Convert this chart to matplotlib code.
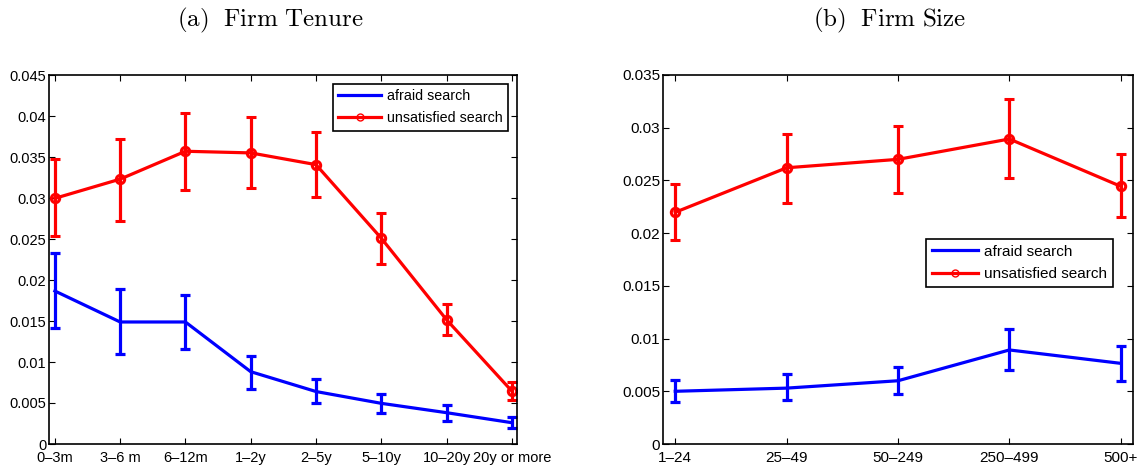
import matplotlib
matplotlib.use("Agg")
import matplotlib.pyplot as plt
from matplotlib.lines import Line2D
from matplotlib.ticker import FuncFormatter
import numpy as np

# ---- data ----
tenure_labels = ["0\u20133m", "3\u20136 m", "6\u201312m", "1\u20132y", "2\u20135y",
                 "5\u201310y", "10\u201320y", "20y or more"]
tenure_afraid = [0.01866, 0.01488, 0.01488, 0.00882, 0.00640, 0.00496, 0.00382, 0.00260]
tenure_afraid_lo = [0.01415, 0.01093, 0.01163, 0.00667, 0.00496, 0.00374, 0.00285, 0.00190]
tenure_afraid_hi = [0.02325, 0.01890, 0.01817, 0.01073, 0.00789, 0.00610, 0.00472, 0.00330]
tenure_unsat = [0.02996, 0.03230, 0.03570, 0.03550, 0.03407, 0.02510, 0.01516, 0.00646]
tenure_unsat_lo = [0.02540, 0.02720, 0.03100, 0.03120, 0.03010, 0.02190, 0.01325, 0.00537]
tenure_unsat_hi = [0.03470, 0.03720, 0.04040, 0.03990, 0.03810, 0.02820, 0.01710, 0.00756]

size_labels = ["1\u201324", "25\u201349", "50\u2013249", "250\u2013499", "500+"]
size_afraid = [0.00500, 0.00530, 0.00600, 0.00892, 0.00765]
size_afraid_lo = [0.00395, 0.00414, 0.00471, 0.00702, 0.00600]
size_afraid_hi = [0.00610, 0.00664, 0.00733, 0.01090, 0.00933]
size_unsat = [0.02198, 0.02620, 0.02700, 0.02893, 0.02444]
size_unsat_lo = [0.01938, 0.02290, 0.02378, 0.02520, 0.02150]
size_unsat_hi = [0.02463, 0.02940, 0.03020, 0.03270, 0.02750]

titles = ["(a)\\ \\ Firm\\ Tenure", "(b)\\ \\ Firm\\ Size"]
legend_labels = ["afraid search", "unsatisfied search"]

plt.rcParams['font.family'] = ['Liberation Sans', 'DejaVu Sans']
plt.rcParams['mathtext.fontset'] = 'cm'

W, H = 1143, 470
fig = plt.figure(figsize=(W / 100, H / 100), dpi=100)

def px_axes(x0, x1, y0, y1):
    return fig.add_axes([x0 / W, 1 - y1 / H, (x1 - x0) / W, (y1 - y0) / H])

ax1 = px_axes(49, 517, 75, 444)
ax2 = px_axes(663, 1133, 75, 444)

fmt = FuncFormatter(lambda v, p: "0" if abs(v) < 1e-12 else ("%g" % round(v, 4)))

def draw(ax, labels, af, af_lo, af_hi, un, un_lo, un_hi, ymax, xlim, fs, legend_kw):
    x = np.arange(1, len(labels) + 1)
    af = np.array(af); un = np.array(un)
    af_err = [af - np.array(af_lo), np.array(af_hi) - af]
    un_err = [un - np.array(un_lo), np.array(un_hi) - un]
    ax.errorbar(x, af, yerr=af_err, color='#0000ff', lw=2.3, elinewidth=2.3,
                capsize=3.5, capthick=2.3)
    ax.errorbar(x, un, yerr=un_err, color='#ff0000', lw=2.3, elinewidth=2.3,
                capsize=3.5, capthick=2.3, marker='o', ms=6, mfc='none', mew=2.2)
    ax.set_xlim(*xlim)
    ax.set_ylim(0, ymax)
    ax.set_xticks(x)
    ax.set_xticklabels(labels)
    ax.set_yticks(np.arange(0, ymax + 1e-9, 0.005))
    ax.yaxis.set_major_formatter(fmt)
    ax.tick_params(direction='in', length=4, width=0.8, top=True, right=True,
                   labelsize=fs, pad=2, colors='black')
    ax.tick_params(axis='x', pad=5)
    for s in ax.spines.values():
        s.set_linewidth(1.2)
    handles = [Line2D([], [], color='#0000ff', lw=2.3),
               Line2D([], [], color='#ff0000', lw=2.3, marker='o', ms=5, mfc='none', mew=1)]
    leg = ax.legend(handles, legend_labels, fancybox=False, framealpha=1,
                    edgecolor='black', handlelength=3.0,
                    handletextpad=0.4, borderpad=0.38, labelspacing=0.55,
                    **legend_kw)
    leg.get_frame().set_linewidth(1.2)

draw(ax1, tenure_labels, tenure_afraid, tenure_afraid_lo, tenure_afraid_hi,
     tenure_unsat, tenure_unsat_lo, tenure_unsat_hi, 0.045, (0.91, 8.08), 10.5,
     dict(loc='upper right', bbox_to_anchor=(0.981, 0.976), borderaxespad=0, fontsize=10.3))
draw(ax2, size_labels, size_afraid, size_afraid_lo, size_afraid_hi,
     size_unsat, size_unsat_lo, size_unsat_hi, 0.035, (0.89, 5.11), 11,
     dict(loc='upper right', bbox_to_anchor=(0.957, 0.556), borderaxespad=0, fontsize=11))

fig.text(270 / W, 1 - 20 / H, r"$\mathrm{" + titles[0] + "}$", ha='center', va='center', fontsize=18)
fig.text(890 / W, 1 - 20 / H, r"$\mathrm{" + titles[1] + "}$", ha='center', va='center', fontsize=18)

fig.savefig("out.png", dpi=100)
